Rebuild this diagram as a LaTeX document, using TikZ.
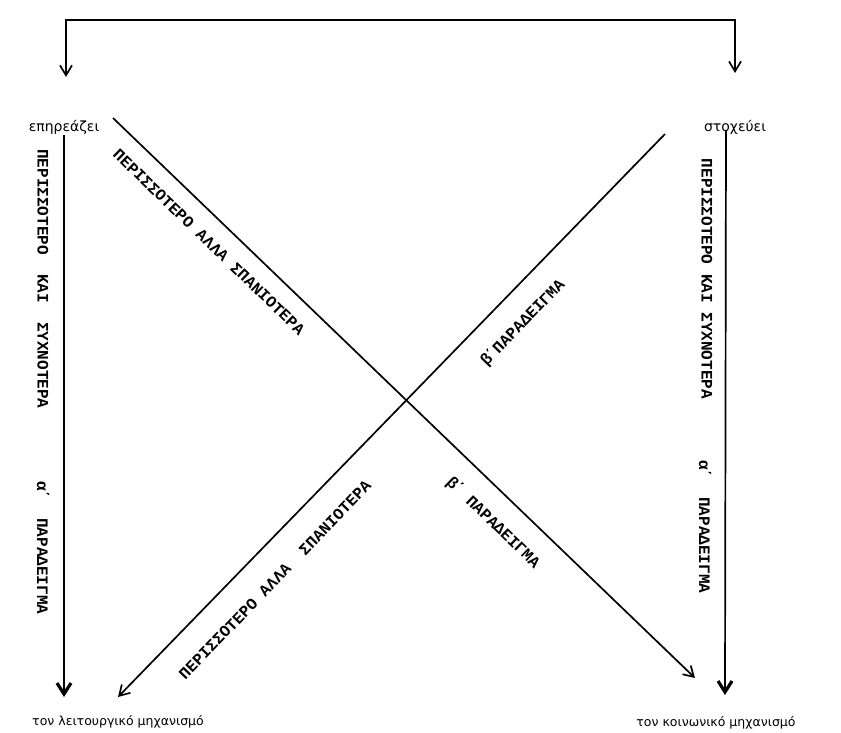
\documentclass[tikz,border=0pt]{standalone}
\usepackage{fontspec}
\setmainfont{DejaVu Sans}
\newfontfamily\capsfont{Liberation Mono}
\usetikzlibrary{arrows.meta}
\newcommand{\tns}{\kern-0.12em΄}
\tikzset{
  ln/.style={line width=1.7pt},
  barb/.style={-{Straight Barb[length=10pt,width=12pt,line width=1.7pt]}},
  bigbarb/.style={-{Straight Barb[length=11pt,width=14pt,line width=3.2pt]}},
  caps/.style={font=\fontsize{16}{16}\selectfont\capsfont\bfseries, inner sep=0pt},
  lab/.style={font=\fontsize{12.5}{12.5}\selectfont, inner sep=0pt},
  toplab/.style={font=\fontsize{14}{14}\selectfont, inner sep=0pt},
}
\begin{document}
\begin{tikzpicture}[x=1pt,y=-1pt]
\useasboundingbox (0,0) rectangle (841,733);
% labels
\node[toplab] (epi)  at (64,127) {επηρεάζει};
\node[toplab] (stox) at (735,127) {στοχεύει};
\node[lab] (leit) at (118,722) {τον λειτουργικό μηχανισμό};
\node[lab] (koin) at (716,723) {τον κοινωνικό μηχανισμό};
% coordinates
\coordinate (tl) at (66,20);
\coordinate (tr) at (735,20);
\coordinate (ltip) at (66,77);
\coordinate (rtip) at (735,73);
\coordinate (lv1) at (64,135);
\coordinate (lv2) at (64,697);
\coordinate (rv1) at (726,130);
\coordinate (rv2) at (725,695);
\coordinate (d1a) at (113,118);
\coordinate (d1b) at (695,678);
\coordinate (d2a) at (665,134);
\coordinate (d2b) at (118,697);
% top bracket
\draw[ln, {Straight Barb[length=10pt,width=12pt,line width=1.7pt]}-{Straight Barb[length=10pt,width=12pt,line width=1.7pt]}]
  (ltip) -- (tl) -- (tr) -- (rtip);
% verticals
\draw[ln, bigbarb] (lv1) -- (lv2);
\draw[ln, bigbarb] (rv1) -- (rv2);
% diagonals
\draw[ln, barb] (d1a) -- (d1b);
\draw[ln, barb] (d2a) -- (d2b);
% vertical texts
\node[caps, rotate=-90] (t1) at (43,279) {ΠΕΡΙΣΣΟΤΕΡΟ~~ΚΑΙ~~ΣΥΧΝΟΤΕΡΑ};
\node[caps, rotate=-90] (t2) at (43,548) {α\tns~~ΠΑΡΑΔΕΙΓΜΑ};
\node[caps, rotate=-90] (t3) at (707,279) {ΠΕΡΙΣΣΟΤΕΡΟ~ΚΑΙ~ΣΥΧΝΟΤΕΡΑ};
\node[caps, rotate=-90] (t4) at (705,527) {α\tns~~ΠΑΡΑΔΕΙΓΜΑ};
% diagonal texts
\node[caps, rotate=-44] (t5) at (209,242) {ΠΕΡΙΣΣΟΤΕΡΟ~ΑΛΛΑ~ΣΠΑΝΙΟΤΕΡΑ};
\node[caps, rotate=46] (t6) at (523,323) {β\tns ΠΑΡΑΔΕΙΓΜΑ};
\node[caps, rotate=46] (t7) at (275,580) {ΠΕΡΙΣΣΟΤΕΡΟ~ΑΛΛΑ~~ΣΠΑΝΙΟΤΕΡΑ};
\node[caps, rotate=-44] (t8) at (493,523) {β\tns~ΠΑΡΑΔΕΙΓΜΑ};
\end{tikzpicture}
\end{document}
